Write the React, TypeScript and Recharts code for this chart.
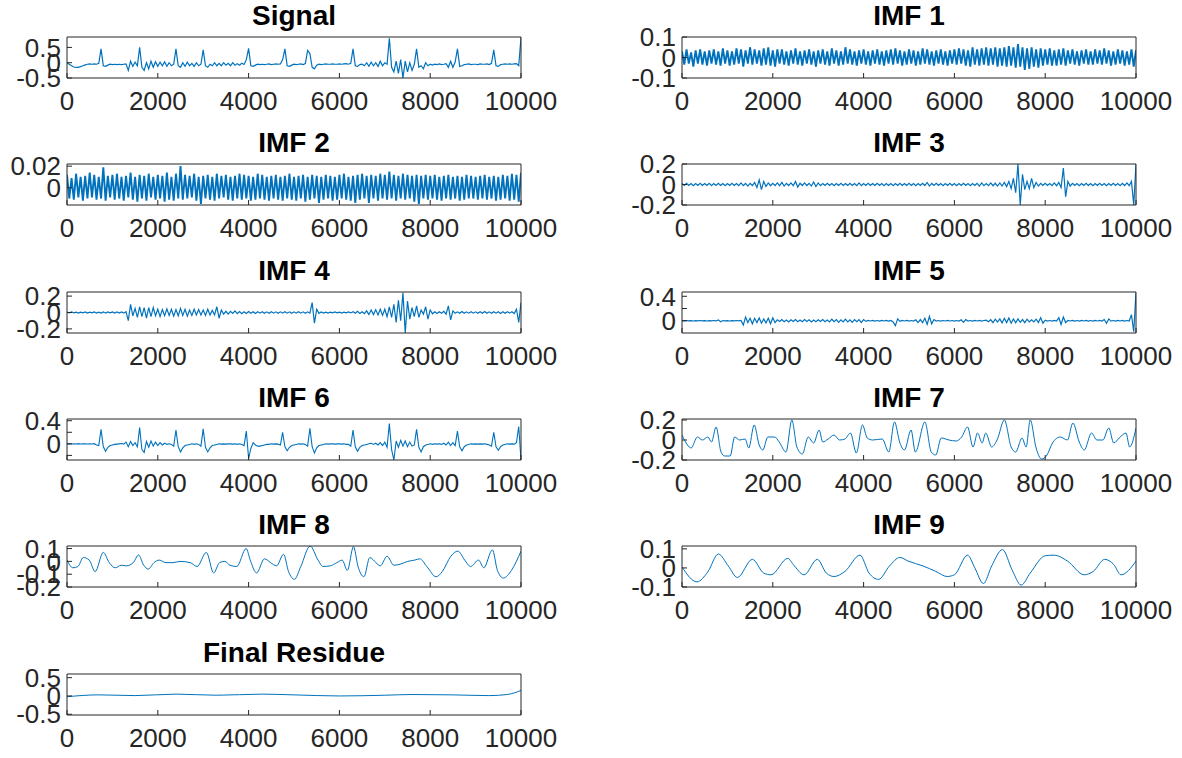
import { LineChart, Line, XAxis, YAxis } from "recharts";

// sample index spacing of the noisy traces
const SAMPLE_STEP = 50;
const xTicks = [0, 2000, 4000, 6000, 8000, 10000];

const signalVals = [
  0, -0.05, -0.1, -0.14, -0.15, -0.15, -0.13, -0.1, -0.07, -0.05, -0.04, -0.05, -0.04, -0.05, -0.02, 0.45, -0.1, -0.12, -0.08, -0.05,
  -0.06, -0.05, -0.06, -0.05, -0.06, -0.05, -0.04, -0.25, 0.05, -0.12, 0.02, -0.1, 0.5, -0.15, -0.25, 0.0, -0.2, 0.05, -0.15, 0.03,
  -0.12, 0.02, -0.1, 0.03, -0.12, 0.0, -0.1, -0.05, 0.45, -0.1, -0.15, 0.0, -0.12, 0.02, -0.1, -0.02, -0.12, 0.0, -0.1, -0.05,
  0.42, -0.1, -0.15, -0.05, -0.1, 0.0, -0.1, -0.02, -0.1, 0.0, -0.08, -0.02, -0.1, 0.0, -0.08, -0.03, -0.08, -0.02, -0.06, 0.1,
  0.47, -0.1, -0.12, -0.08, -0.05, -0.06, -0.05, -0.06, -0.05, -0.04, -0.06, -0.05, -0.04, -0.05, -0.04, 0.1, 0.45, -0.1, -0.12, -0.08,
  -0.05, -0.06, -0.05, -0.04, -0.06, -0.03, 0.4, 0.3, -0.15, -0.2, -0.08, -0.05, -0.06, -0.05, -0.04, -0.05, -0.05, -0.04, -0.05, -0.05,
  -0.04, -0.05, -0.04, -0.03, -0.05, -0.02, 0.45, -0.1, -0.12, -0.06, -0.05, -0.1, 0.0, -0.12, 0.02, -0.1, 0.0, -0.12, 0.05, -0.1,
  0.0, -0.05, 0.8, -0.15, -0.3, 0.05, -0.35, 0.1, -0.5, 0.05, -0.3, 0.0, -0.25, -0.05, 0.45, -0.15, -0.1, -0.2, 0.0, -0.1,
  -0.05, -0.08, -0.05, -0.06, -0.04, -0.06, -0.05, -0.03, -0.15, 0.05, -0.15, 0.02, 0.45, -0.12, -0.1, -0.06, -0.05, -0.04, -0.06, -0.05,
  -0.05, -0.06, -0.04, -0.05, -0.05, -0.04, -0.06, -0.02, 0.42, -0.1, -0.12, -0.06, -0.05, -0.04, -0.05, -0.04, -0.05, -0.04, -0.03, -0.1,
  0.82,
];

const imf1Vals = [
  0.03, -0.035, 0.04, -0.03, 0.025, -0.045, 0.035, -0.03, 0.04, -0.035, 0.03, -0.04, 0.035, -0.03, 0.04, -0.035, 0.03, -0.04, 0.045, -0.03,
  0.035, -0.04, 0.03, -0.035, 0.045, -0.03, 0.04, -0.045, 0.035, -0.03, 0.05, -0.035, 0.04, -0.03, 0.035, -0.04, 0.045, -0.035, 0.05, -0.04,
  0.035, -0.045, 0.04, -0.03, 0.04, -0.035, 0.03, -0.04, 0.035, -0.03, 0.045, -0.035, 0.03, -0.04, 0.035, -0.03, 0.04, -0.035, 0.03, -0.045,
  0.035, -0.03, 0.04, -0.035, 0.03, -0.04, 0.045, -0.03, 0.035, -0.04, 0.03, -0.035, 0.05, -0.03, 0.04, -0.035, 0.03, -0.04, 0.035, -0.03,
  0.04, -0.035, 0.03, -0.04, 0.035, -0.03, 0.04, -0.035, 0.03, -0.04, 0.035, -0.03, 0.04, -0.035, 0.045, -0.03, 0.035, -0.04, 0.03, -0.035,
  0.04, -0.03, 0.035, -0.04, 0.03, -0.035, 0.045, -0.03, 0.04, -0.035, 0.03, -0.04, 0.035, -0.03, 0.04, -0.035, 0.03, -0.04, 0.035, -0.03,
  0.04, -0.035, 0.045, -0.03, 0.04, -0.04, 0.035, -0.045, 0.05, -0.035, 0.04, -0.04, 0.045, -0.035, 0.05, -0.04, 0.045, -0.035, 0.05, -0.045,
  0.045, -0.04, 0.05, -0.045, 0.055, -0.04, 0.05, -0.05, 0.065, -0.045, 0.05, -0.06, 0.045, -0.055, 0.05, -0.045, 0.04, -0.05, 0.045, -0.04,
  0.04, -0.035, 0.045, -0.04, 0.035, -0.04, 0.04, -0.035, 0.045, -0.04, 0.035, -0.03, 0.04, -0.035, 0.03, -0.04, 0.035, -0.03, 0.04, -0.035,
  0.03, -0.035, 0.04, -0.03, 0.035, -0.035, 0.045, -0.03, 0.035, -0.04, 0.03, -0.035, 0.04, -0.03, 0.035, -0.04, 0.03, -0.035, 0.04, -0.045,
  0.035,
];

const imf2Vals = [
  0.012, -0.01, 0.009, -0.011, 0.013, -0.009, 0.01, -0.012, 0.011, -0.01, 0.014, -0.009, 0.012, -0.011, 0.01, -0.01, 0.019, -0.012, 0.011, -0.009,
  0.012, -0.011, 0.013, -0.01, 0.01, -0.012, 0.011, -0.009, 0.014, -0.011, 0.01, -0.013, 0.012, -0.01, 0.011, -0.012, 0.013, -0.009, 0.01, -0.011,
  0.012, -0.01, 0.011, -0.013, 0.014, -0.011, 0.01, -0.012, 0.013, -0.01, 0.02, -0.011, 0.012, -0.01, 0.011, -0.009, 0.013, -0.012, 0.01, -0.015,
  0.011, -0.01, 0.012, -0.011, 0.01, -0.012, 0.013, -0.01, 0.011, -0.009, 0.012, -0.011, 0.01, -0.012, 0.011, -0.01, 0.013, -0.011, 0.012, -0.01,
  0.011, -0.012, 0.01, -0.011, 0.013, -0.01, 0.012, -0.011, 0.01, -0.012, 0.011, -0.01, 0.012, -0.011, 0.01, -0.012, 0.011, -0.01, 0.013, -0.011,
  0.01, -0.012, 0.011, -0.01, 0.012, -0.013, 0.01, -0.011, 0.012, -0.01, 0.011, -0.014, 0.01, -0.011, 0.012, -0.01, 0.011, -0.012, 0.01, -0.011,
  0.012, -0.01, 0.013, -0.011, 0.01, -0.012, 0.011, -0.014, 0.012, -0.011, 0.013, -0.01, 0.011, -0.014, 0.012, -0.01, 0.011, -0.012, 0.013, -0.01,
  0.012, -0.011, 0.015, -0.01, 0.012, -0.012, 0.011, -0.01, 0.013, -0.011, 0.012, -0.01, 0.011, -0.013, 0.012, -0.015, 0.011, -0.01, 0.012, -0.011,
  0.011, -0.01, 0.012, -0.011, 0.01, -0.012, 0.011, -0.01, 0.012, -0.011, 0.01, -0.01, 0.011, -0.012, 0.01, -0.011, 0.012, -0.01, 0.011, -0.01,
  0.01, -0.011, 0.011, -0.01, 0.012, -0.011, 0.01, -0.01, 0.011, -0.012, 0.01, -0.011, 0.012, -0.01, 0.011, -0.012, 0.013, -0.011, 0.012, -0.013,
  0.014,
];

const imf3Vals = [
  0.01, -0.01, 0.012, -0.01, 0.01, -0.012, 0.01, -0.01, 0.012, -0.01, 0.01, -0.01, 0.012, -0.011, 0.01, -0.01, 0.011, -0.01, 0.01, -0.012,
  0.01, -0.01, 0.012, -0.01, 0.01, -0.012, 0.015, -0.012, 0.01, -0.015, 0.012, -0.01, 0.02, -0.03, 0.045, -0.05, 0.03, -0.02, 0.015, -0.012,
  0.012, -0.01, 0.015, -0.012, 0.02, -0.015, 0.012, -0.01, 0.015, -0.012, 0.03, -0.025, 0.012, -0.01, 0.015, -0.01, 0.012, -0.015, 0.025, -0.02,
  0.015, -0.012, 0.01, -0.01, 0.012, -0.01, 0.01, -0.012, 0.01, -0.01, 0.012, -0.01, 0.01, -0.01, 0.012, -0.01, 0.01, -0.012, 0.015, -0.012,
  0.01, -0.01, 0.012, -0.01, 0.01, -0.01, 0.012, -0.01, 0.01, -0.012, 0.01, -0.01, 0.01, -0.012, 0.01, -0.01, 0.012, -0.01, 0.01, -0.01,
  0.012, -0.01, 0.01, -0.012, 0.01, -0.01, 0.012, -0.01, 0.02, -0.015, 0.01, -0.01, 0.012, -0.01, 0.01, -0.012, 0.01, -0.01, 0.012, -0.01,
  0.01, -0.012, 0.01, -0.01, 0.012, -0.01, 0.01, -0.012, 0.01, -0.01, 0.012, -0.015, 0.015, -0.012, 0.01, -0.012, 0.015, -0.012, 0.012, -0.015,
  0.015, -0.015, 0.02, -0.02, 0.03, -0.04, 0.06, -0.08, 0.2, -0.2, 0.1, -0.05, 0.03, -0.04, 0.06, -0.03, 0.02, -0.015, 0.012, -0.01,
  0.012, -0.01, 0.01, -0.012, 0.015, -0.012, 0.02, -0.03, 0.16, -0.12, 0.03, -0.015, 0.012, -0.01, 0.01, -0.012, 0.01, -0.01, 0.012, -0.01,
  0.01, -0.012, 0.01, -0.01, 0.012, -0.01, 0.01, -0.012, 0.01, -0.01, 0.012, -0.01, 0.01, -0.012, 0.012, -0.01, 0.015, -0.012, 0.03, -0.2,
  0.2,
];

const imf4Vals = [
  0.005, -0.005, 0.006, -0.005, 0.005, -0.006, 0.005, -0.005, 0.006, -0.006, 0.005, -0.005, 0.008, -0.007, 0.005, -0.006, 0.008, -0.008, 0.006, -0.005,
  0.007, -0.006, 0.008, -0.007, 0.006, -0.008, 0.01, -0.1, 0.1, -0.04, 0.05, -0.06, 0.07, -0.05, 0.06, -0.07, 0.06, -0.05, 0.06, -0.04,
  0.04, -0.05, 0.035, -0.04, 0.045, -0.035, 0.04, -0.045, 0.035, -0.04, 0.05, -0.035, 0.04, -0.045, 0.03, -0.035, 0.04, -0.03, 0.035, -0.03,
  0.03, -0.035, 0.04, -0.03, 0.025, -0.03, 0.07, -0.07, 0.03, -0.02, 0.015, -0.02, 0.015, -0.012, 0.02, -0.015, 0.012, -0.015, 0.01, -0.012,
  0.012, -0.01, 0.01, -0.012, 0.01, -0.008, 0.01, -0.01, 0.008, -0.01, 0.01, -0.008, 0.008, -0.01, 0.008, -0.008, 0.01, -0.008, 0.008, -0.01,
  0.008, -0.008, 0.01, -0.008, 0.008, -0.01, 0.008, -0.008, 0.12, -0.13, 0.04, -0.01, 0.006, -0.006, 0.005, -0.006, 0.005, -0.005, 0.006, -0.005,
  0.005, -0.006, 0.005, -0.005, 0.006, -0.005, 0.01, -0.01, 0.015, -0.012, 0.01, -0.015, 0.02, -0.025, 0.03, -0.025, 0.035, -0.03, 0.04, -0.035,
  0.04, -0.05, 0.07, -0.06, 0.1, -0.12, 0.15, -0.1, 0.24, -0.25, 0.14, -0.08, 0.06, -0.05, 0.08, -0.06, 0.03, -0.02, 0.07, -0.08,
  0.03, -0.015, 0.01, -0.012, 0.01, -0.01, 0.015, -0.02, 0.08, -0.09, 0.02, -0.01, 0.008, -0.01, 0.012, -0.01, 0.008, -0.008, 0.01, -0.008,
  0.008, -0.01, 0.01, -0.008, 0.012, -0.01, 0.008, -0.01, 0.01, -0.008, 0.01, -0.012, 0.008, -0.01, 0.01, -0.008, 0.01, -0.012, 0.04, -0.12,
  0.12,
];

const imf5Vals = [
  0.003, -0.003, 0.004, -0.003, 0.003, -0.004, 0.003, -0.003, 0.004, -0.003, 0.003, -0.004, 0.003, -0.003, 0.004, -0.003, 0.015, -0.015, 0.004, -0.003,
  0.003, -0.004, 0.003, -0.003, 0.004, -0.003, 0.005, -0.07, 0.06, -0.03, 0.04, -0.05, 0.04, -0.03, 0.045, -0.04, 0.03, -0.035, 0.04, -0.05,
  0.05, -0.03, 0.015, -0.012, 0.02, -0.015, 0.012, -0.02, 0.015, -0.012, 0.02, -0.015, 0.012, -0.015, 0.02, -0.012, 0.015, -0.02, 0.012, -0.015,
  0.015, -0.012, 0.02, -0.015, 0.012, -0.02, 0.025, -0.015, 0.02, -0.025, 0.015, -0.02, 0.025, -0.02, 0.015, -0.025, 0.02, -0.015, 0.02, -0.03,
  0.02, -0.01, 0.005, -0.004, 0.005, -0.005, 0.004, -0.005, 0.005, -0.004, 0.005, -0.005, 0.004, -0.02, -0.08, 0.03, -0.01, 0.005, -0.004, 0.005,
  -0.005, 0.004, -0.005, 0.015, -0.03, 0.02, -0.03, 0.04, -0.06, 0.07, -0.05, 0.02, -0.005, 0.004, -0.005, 0.004, -0.004, 0.005, -0.004, 0.004,
  -0.005, 0.004, -0.005, 0.015, -0.025, 0.02, -0.005, 0.004, -0.005, 0.005, -0.004, 0.005, -0.005, 0.004, 0.01, -0.015, 0.02, -0.03, 0.025, -0.02,
  0.03, -0.035, 0.04, -0.03, 0.045, -0.04, 0.03, -0.035, 0.03, -0.025, 0.02, -0.03, 0.025, -0.02, 0.015, -0.02, 0.025, -0.03, 0.05, -0.04,
  0.01, -0.005, 0.004, -0.005, 0.005, -0.004, 0.05, -0.06, 0.06, -0.03, 0.005, -0.004, 0.005, -0.005, 0.004, -0.005, 0.005, -0.004, 0.005, -0.005,
  0.004, -0.005, 0.005, -0.004, 0.005, -0.005, 0.02, -0.04, 0.03, -0.005, 0.004, -0.005, 0.005, -0.004, 0.005, -0.005, 0.004, -0.005, 0.1, -0.18,
  0.46,
];

const imf6Vals = [
  0, 0.003, -0.003, 0.002, -0.002, 0.003, -0.003, 0.002, 0, -0.003, 0.002, -0.002, 0.003, -0.02, -0.03, 0.25, -0.05, -0.13, -0.06, -0.03,
  -0.02, -0.01, -0.005, 0, 0.005, -0.005, 0.03, -0.05, 0.04, -0.03, 0.02, -0.05, 0.28, -0.1, -0.15, 0.04, -0.06, 0.05, -0.04, 0.03,
  -0.03, 0.02, -0.02, 0.01, -0.01, 0, -0.01, -0.04, 0.24, -0.05, -0.14, -0.07, -0.03, -0.02, -0.01, 0, -0.01, 0, -0.01, -0.04,
  0.26, -0.06, -0.14, -0.07, -0.03, -0.02, -0.01, 0, -0.005, 0, -0.005, 0, 0, -0.005, 0, -0.01, 0, -0.01, -0.03, 0.22,
  -0.25, -0.08, 0.02, -0.02, -0.04, -0.04, -0.03, -0.02, -0.01, -0.01, 0, -0.005, 0, -0.005, -0.02, 0.2, -0.05, -0.12, -0.06, -0.03,
  -0.02, -0.01, 0, -0.005, 0, -0.01, -0.04, 0.27, -0.05, -0.16, -0.07, -0.03, -0.02, -0.01, 0, -0.005, 0, 0, -0.005, 0,
  0, -0.005, 0, -0.01, -0.01, -0.04, 0.24, -0.05, -0.13, -0.06, -0.03, -0.02, -0.01, 0, 0.01, -0.01, 0.01, -0.02, 0.02, -0.03,
  0.03, -0.06, 0.35, -0.1, -0.28, 0.05, -0.06, 0.06, -0.04, 0.05, -0.05, 0.03, -0.04, -0.02, 0.25, -0.06, -0.14, -0.05, -0.02, -0.01,
  0, -0.01, 0, -0.005, 0, -0.01, 0.01, -0.02, 0.03, -0.03, 0.02, -0.03, 0.22, -0.05, -0.12, -0.05, -0.02, -0.01, 0, -0.005,
  0, -0.005, 0, -0.005, 0, -0.01, -0.02, -0.04, 0.2, -0.05, -0.11, -0.05, -0.02, -0.01, 0, -0.005, 0, -0.005, 0.02, 0.3,
  -0.28,
];

// smooth modes: [sample, value] read at turning points
const imf7Pts = [
  [0, 0.05], [120, -0.05], [200, -0.08], [340, 0.03], [450, 0], [570, 0.03], [650, -0.02], [750, 0.13], [860, -0.12], [940, -0.16],
  [1060, -0.16], [1160, 0.03], [1270, 0], [1390, 0.01], [1470, -0.08], [1590, 0.15], [1700, -0.05], [1780, -0.1], [1890, 0.03], [2040, 0.03],
  [2140, -0.02], [2290, -0.12], [2420, 0.2], [2530, -0.07], [2650, -0.14], [2780, 0.03], [2900, -0.03], [3020, 0.1], [3100, -0.02], [3220, 0.01],
  [3350, 0.05], [3470, 0], [3590, 0.01], [3710, 0.07], [3840, -0.13], [3975, 0.15], [4080, 0.02], [4200, 0], [4410, 0.01], [4555, -0.12],
  [4680, 0.18], [4800, -0.03], [4900, -0.1], [5045, 0.1], [5140, -0.12], [5350, 0.18], [5490, -0.12], [5590, -0.15], [5710, 0.02], [5880, 0],
  [6040, -0.01], [6160, 0.03], [6290, 0.13], [6410, -0.07], [6510, 0.07], [6610, -0.03], [6690, 0.07], [6820, -0.07], [6940, 0], [7100, 0.2],
  [7250, -0.07], [7350, -0.12], [7490, 0.02], [7580, -0.07], [7670, 0.2], [7800, -0.08], [7920, -0.19], [8040, -0.15], [8160, -0.03], [8330, 0.03],
  [8490, 0], [8610, 0.17], [8750, -0.02], [8860, -0.1], [9020, 0.07], [9140, 0], [9270, 0], [9400, 0.12], [9510, -0.03], [9630, 0.02],
  [9780, 0.07], [9860, -0.07], [10000, 0.12],
];

const imf8Pts = [
  [0, 0.01], [130, -0.05], [240, -0.04], [360, 0.03], [490, 0.01], [620, -0.08], [800, 0.07], [930, -0.01], [1065, -0.05], [1195, -0.03],
  [1310, -0.035], [1460, -0.01], [1575, 0.05], [1690, -0.03], [1790, -0.06], [1915, -0.01], [2030, 0.01], [2180, -0.01], [2335, -0.01], [2490, 0],
  [2715, -0.01], [2865, -0.04], [3070, 0.07], [3230, -0.09], [3360, -0.01], [3475, 0], [3590, -0.03], [3740, -0.04], [3945, 0.1], [4045, 0],
  [4175, -0.09], [4350, 0.02], [4485, -0.01], [4615, -0.035], [4770, 0.055], [4880, -0.08], [5010, -0.14], [5150, -0.04], [5355, 0.12], [5530, 0.01],
  [5640, -0.04], [5795, -0.035], [5945, -0.01], [6060, 0.01], [6175, -0.07], [6310, 0.115], [6410, -0.04], [6540, -0.12], [6670, 0.03], [6805, -0.01],
  [6900, -0.035], [7050, 0.04], [7200, -0.03], [7355, -0.02], [7505, 0], [7660, 0.01], [7770, 0.02], [7925, -0.04], [8130, -0.12], [8265, -0.08],
  [8455, 0.04], [8610, 0.08], [8760, 0.01], [8890, -0.04], [9065, 0.01], [9180, -0.05], [9370, 0.09], [9480, -0.07], [9610, -0.13], [9790, -0.07],
  [10000, 0.08],
];

const imf9Pts = [
  [0, 0.005], [330, -0.073], [570, -0.02], [800, 0.073], [1020, 0.01], [1220, -0.05], [1550, 0.045], [1800, -0.027], [1960, -0.036], [2330, 0.05],
  [2450, 0.018], [2690, -0.036], [2980, 0.045], [3180, -0.027], [3350, -0.045], [3590, -0.018], [3920, 0.067], [4120, -0.027], [4330, -0.06], [4570, 0.01],
  [4800, 0.055], [4980, 0.036], [5310, 0.01], [5590, -0.018], [5840, -0.045], [6000, -0.036], [6290, 0.067], [6450, 0], [6640, -0.082], [6820, 0.01],
  [7060, 0.096], [7270, -0.01], [7470, -0.09], [7670, -0.027], [8000, 0.064], [8200, 0.067], [8490, 0.036], [8860, -0.036], [9060, -0.018], [9310, 0.045],
  [9510, 0.018], [9670, -0.036], [10000, 0.036],
];

const residuePts = [
  [0, -0.02], [700, 0.03], [1500, 0.01], [2400, 0.05], [3300, 0.02], [4300, 0.05], [5000, 0.03], [6000, 0.0], [7000, 0.02], [7600, 0.04],
  [8500, 0.03], [9300, 0.01], [9700, 0.04], [10000, 0.15],
];

const toSeries = (vals: number[]) => vals.map((y, i) => ({ x: i * SAMPLE_STEP, y }));
const toPairs = (pts: number[][]) => pts.map(([x, y]) => ({ x, y }));

// layout of the 6x2 subplot grid (plot boxes)
const BOX_W = 454;
const BOX_H = 41;
const COL_X = [67, 682];
const ROW_Y = [37, 164, 292, 419, 546, 674];
const PAD_L = 100;
const PAD_R = 50;
const TOP_AXIS = 6;
const TOP_ROOM = 20; // room above the box so the top tick label is not clipped
const PAD_B = 46;

const FONT = '"Liberation Sans", Arial, Helvetica, sans-serif';
const AXIS_COLOR = "#262626";
const LINE_COLOR = "#0072BD";

type Panel = {
  title: string;
  data: { x: number; y: number }[];
  domain: [number, number];
  ticks: number[];
  labels: number[];
  col: number;
  row: number;
  smooth?: boolean;
  width?: number;
};

const panels: Panel[] = [
  { title: "Signal", data: toSeries(signalVals), domain: [-0.5, 0.84], ticks: [-0.5, 0, 0.5], labels: [-0.5, 0, 0.5], col: 0, row: 0, width: 1.2 },
  { title: "IMF 1", data: toSeries(imf1Vals), domain: [-0.1, 0.1], ticks: [-0.1, 0, 0.1], labels: [-0.1, 0, 0.1], col: 1, row: 0, width: 1.9 },
  { title: "IMF 2", data: toSeries(imf2Vals), domain: [-0.016, 0.022], ticks: [0, 0.02], labels: [0, 0.02], col: 0, row: 1, width: 1.9 },
  { title: "IMF 3", data: toSeries(imf3Vals), domain: [-0.2, 0.2], ticks: [-0.2, 0, 0.2], labels: [-0.2, 0, 0.2], col: 1, row: 1, width: 1.2 },
  { title: "IMF 4", data: toSeries(imf4Vals), domain: [-0.25, 0.25], ticks: [-0.2, 0, 0.2], labels: [-0.2, 0, 0.2], col: 0, row: 2, width: 1.2 },
  { title: "IMF 5", data: toSeries(imf5Vals), domain: [-0.2, 0.47], ticks: [0, 0.2, 0.4], labels: [0, 0.4], col: 1, row: 2, width: 1.2 },
  { title: "IMF 6", data: toSeries(imf6Vals), domain: [-0.28, 0.43], ticks: [-0.2, 0, 0.2, 0.4], labels: [0, 0.4], col: 0, row: 3, width: 1.1 },
  { title: "IMF 7", data: toPairs(imf7Pts), domain: [-0.2, 0.21], ticks: [-0.2, 0, 0.2], labels: [-0.2, 0, 0.2], col: 1, row: 3, smooth: true },
  { title: "IMF 8", data: toPairs(imf8Pts), domain: [-0.2, 0.12], ticks: [-0.2, -0.1, 0, 0.1], labels: [-0.2, -0.1, 0, 0.1], col: 0, row: 4, smooth: true },
  { title: "IMF 9", data: toPairs(imf9Pts), domain: [-0.1, 0.115], ticks: [-0.1, 0, 0.1], labels: [-0.1, 0, 0.1], col: 1, row: 4, smooth: true },
  { title: "Final Residue", data: toPairs(residuePts), domain: [-0.52, 0.6], ticks: [-0.5, 0, 0.5], labels: [-0.5, 0, 0.5], col: 0, row: 5, smooth: true },
];

const tickStyle = { fontSize: 26, fill: AXIS_COLOR, fontFamily: FONT };

function SubPlot({ p }: { p: Panel }) {
  const left = COL_X[p.col];
  const top = ROW_Y[p.row];
  return (
    <>
      <div
        style={{
          position: "absolute",
          left,
          top: top - 35,
          width: BOX_W,
          textAlign: "center",
          fontFamily: FONT,
          fontWeight: "bold",
          fontSize: 28,
          lineHeight: "28px",
          color: "#000",
        }}
      >
        {p.title}
      </div>
      <div style={{ position: "absolute", left: left - PAD_L, top: top - TOP_AXIS - TOP_ROOM }}>
        <LineChart
          width={PAD_L + BOX_W + PAD_R}
          height={TOP_ROOM + TOP_AXIS + BOX_H + PAD_B}
          data={p.data}
          margin={{ top: TOP_ROOM, right: PAD_R - 6, bottom: 0, left: 0 }}
        >
          <XAxis
            xAxisId="b"
            dataKey="x"
            type="number"
            domain={[0, 10000]}
            ticks={xTicks}
            interval={0}
            height={PAD_B}
            tickSize={-5}
            tickMargin={19}
            stroke={AXIS_COLOR}
            tick={tickStyle}
            allowDataOverflow
          />
          <XAxis
            xAxisId="t"
            orientation="top"
            dataKey="x"
            type="number"
            domain={[0, 10000]}
            ticks={xTicks}
            interval={0}
            height={TOP_AXIS}
            tickSize={-5}
            tick={false}
            stroke={AXIS_COLOR}
            allowDataOverflow
          />
          <YAxis
            yAxisId="l"
            type="number"
            domain={p.domain}
            ticks={p.ticks}
            interval={0}
            width={PAD_L}
            tickSize={-5}
            tickMargin={11}
            stroke={AXIS_COLOR}
            tick={tickStyle}
            tickFormatter={(v: number) => (p.labels.includes(v) ? String(v) : "")}
            allowDataOverflow
          />
          <YAxis
            yAxisId="r"
            orientation="right"
            type="number"
            domain={p.domain}
            ticks={p.ticks}
            interval={0}
            width={6}
            tickSize={-5}
            tick={false}
            stroke={AXIS_COLOR}
            allowDataOverflow
          />
          <Line
            xAxisId="b"
            yAxisId="l"
            dataKey="y"
            type={p.smooth ? "monotone" : "linear"}
            stroke={LINE_COLOR}
            strokeWidth={p.width ?? 1}
            dot={false}
            activeDot={false}
            isAnimationActive={false}
          />
        </LineChart>
      </div>
    </>
  );
}

export default function App() {
  return (
    <div style={{ position: "absolute", left: 0, top: 0, width: 1182, height: 758, background: "#fff", overflow: "hidden" }}>
      {panels.map((p) => (
        <SubPlot key={p.title} p={p} />
      ))}
    </div>
  );
}
